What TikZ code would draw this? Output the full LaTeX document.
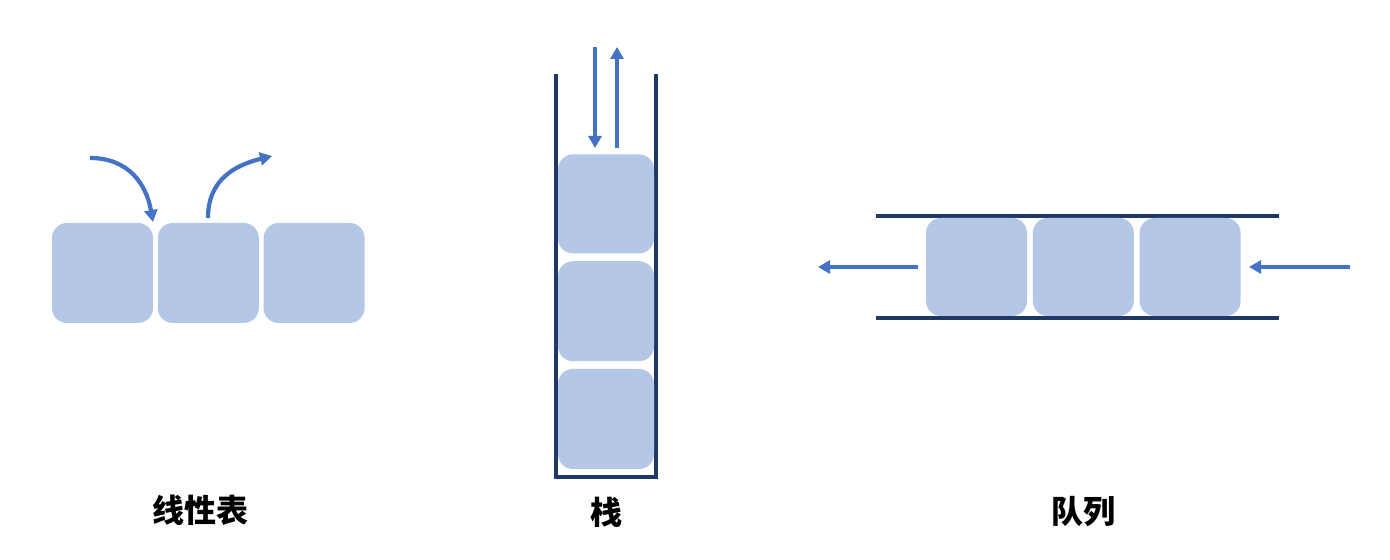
\documentclass[tikz,border=0pt]{standalone}
\usepackage{fontspec}
\newfontfamily\cjk{Noto Sans CJK SC}
\usetikzlibrary{arrows.meta, positioning}
\definecolor{cellblue}{HTML}{B4C7E7}
\definecolor{arrowblue}{HTML}{4472C4}
\definecolor{wallnavy}{HTML}{203864}
\tikzstyle{cell} = [fill=cellblue, rectangle, rounded corners=7.5pt, minimum width=50.5pt, minimum height=50pt, inner sep=0pt]
\tikzstyle{wall} = [draw=wallnavy, line width=1.8pt]
\tikzstyle{arrow} = [draw=arrowblue, line width=1.9pt, -{Triangle[length=6pt, width=6.5pt]}]
\tikzstyle{title} = [font=\cjk\bfseries\fontsize{16pt}{18pt}\selectfont]

\begin{document}
\begin{tikzpicture}[x=0.5pt, y=0.5pt, node distance=2pt]
    \useasboundingbox (0,0) rectangle (1390,560);

    % Linear list
    \node [cell] (L1) at (102.5,287) {};
    \node [cell, right=of L1] (L2) {};
    \node [cell, right=of L2] (L3) {};
    \node [title] (Ltitle) at (200,50) {线性表};
    \coordinate (Lin) at (90,402);
    \coordinate (Lgap) at (153,338);
    \coordinate (Lfrom) at (208,342);
    \coordinate (Lout) at (272,404);
    \draw [arrow, line width=2.1pt] (Lin) to[out=0, in=100, looseness=1.1] (Lgap);
    \draw [arrow, line width=2.1pt] (Lfrom) to[out=90, in=194, looseness=1.1] (Lout);

    % Stack
    \draw [wall] (556,486) |- (656,83) -- (656,486);
    \node [cell, minimum width=48pt] (S1) at (606,141) {};
    \node [cell, minimum width=48pt, above=3.5pt of S1] (S2) {};
    \node [cell, minimum width=48pt, minimum height=49.5pt, above=3.5pt of S2] (S3) {};
    \node [title] (Stitle) at (606,48) {栈};
    \coordinate (pushA) at (595,513);
    \coordinate (pushB) at (595,412);
    \coordinate (popA) at (617,412);
    \coordinate (popB) at (617,513);
    \draw [arrow] (pushA) -- (pushB);
    \draw [arrow] (popA) -- (popB);

    % Queue
    \draw [wall] (876,344) -- (1279,344);
    \draw [wall] (876,242) -- (1279,242);
    \node [cell, minimum height=49pt] (Q1) at (976.5,293) {};
    \node [cell, minimum height=49pt, right=2.5pt of Q1] (Q2) {};
    \node [cell, minimum height=49pt, right=2.5pt of Q2] (Q3) {};
    \node [title] (Qtitle) at (1083,48) {队列};
    \coordinate (deqA) at (918,293);
    \coordinate (deqB) at (818,293);
    \coordinate (enqA) at (1350,293);
    \coordinate (enqB) at (1249,293);
    \draw [arrow] (deqA) -- (deqB);
    \draw [arrow] (enqA) -- (enqB);
\end{tikzpicture}
\end{document}
